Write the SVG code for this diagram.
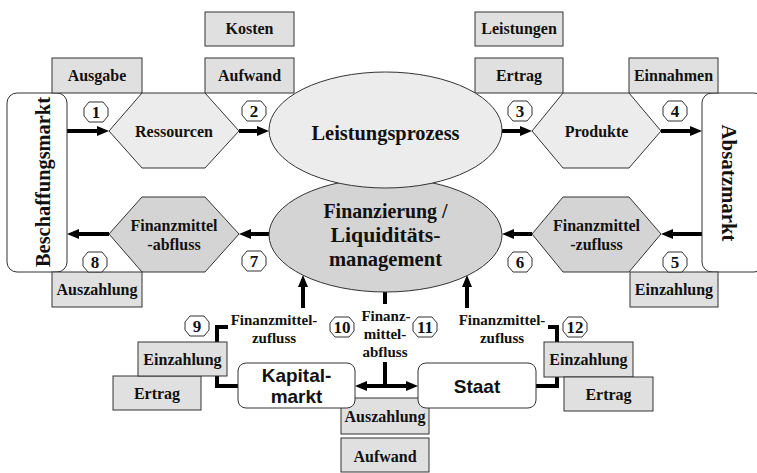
<svg xmlns="http://www.w3.org/2000/svg" xmlns:xlink="http://www.w3.org/1999/xlink" width="757" height="473" viewBox="0 0 757 473">
<style>
.box{fill:#e0e0e0;stroke:#333;stroke-width:1}
.hexL{fill:#ececec;stroke:#333;stroke-width:1}
.hexD{fill:#d4d4d4;stroke:#333;stroke-width:1}
.mkt{fill:#fff;stroke:#333;stroke-width:1}
.t{font-family:"Liberation Serif","Times New Roman",serif;font-weight:bold;font-size:16px;fill:#111;text-anchor:middle}
.big{font-size:22px}
.mid{font-size:20px}
.sm{font-size:15px}
.num{font-size:17px}
.sans{font-family:"Liberation Sans",Arial,sans-serif;font-weight:bold;font-size:19px;fill:#111;text-anchor:middle}
.ln{fill:none;stroke:#000;stroke-width:4}
.oct{fill:#fff;stroke:#333;stroke-width:1}
</style>
<defs>
<marker id="ah" markerUnits="userSpaceOnUse" markerWidth="12" markerHeight="10" refX="0" refY="5" orient="auto-start-reverse">
<path d="M0,0 L12,5 L0,10 Z" fill="#000"/>
</marker>
<path id="o" d="M-7,-10 L7,-10 L12,-4 L12,4 L7,10 L-7,10 L-12,4 L-12,-4 Z"/>
</defs>

<g id="connectors">
<path class="ln" d="M67,131 H97" marker-end="url(#ah)"/>
<path class="ln" d="M239,131 H257" marker-end="url(#ah)"/>
<path class="ln" d="M502,131 H520" marker-end="url(#ah)"/>
<path class="ln" d="M661,131 H690" marker-end="url(#ah)"/>
<path class="ln" d="M702,234 H673" marker-end="url(#ah)"/>
<path class="ln" d="M532,234 H514" marker-end="url(#ah)"/>
<path class="ln" d="M269,234 H251" marker-end="url(#ah)"/>
<path class="ln" d="M109,234 H79" marker-end="url(#ah)"/>
<path class="ln" d="M303,308 V287" marker-end="url(#ah)"/>
<path class="ln" d="M467,308 V287" marker-end="url(#ah)"/>
<path class="ln" d="M385,290 V304"/>
<path class="ln" d="M367,386 H406" marker-start="url(#ah)" marker-end="url(#ah)"/>
<path class="ln" d="M385,362 V386"/>
<path class="ln" d="M238,386 H217 V327 H228"/>
<path class="ln" d="M536,386 H557 V327 H548"/>
</g>

<g id="beschaffungsmarkt">
<rect class="mkt" x="7" y="93" width="60" height="179" rx="10"/>
<text class="t big" transform="translate(50,182) rotate(-90)" textLength="170" lengthAdjust="spacingAndGlyphs">Beschaffungsmarkt</text>
</g>
<g id="absatzmarkt">
<rect class="mkt" x="702" y="93" width="62" height="179" rx="10"/>
<text class="t big" transform="translate(722,183) rotate(90)" textLength="117" lengthAdjust="spacingAndGlyphs">Absatzmarkt</text>
</g>

<g id="kosten"><rect class="box" x="205" y="12" width="89" height="34"/><text class="t" x="249.5" y="34">Kosten</text></g>
<g id="leistungen"><rect class="box" x="475" y="12" width="88" height="34"/><text class="t" x="519" y="34">Leistungen</text></g>
<g id="ausgabe"><rect class="box" x="52" y="58" width="90" height="35"/><text class="t" x="97" y="81">Ausgabe</text></g>
<g id="aufwand-top"><rect class="box" x="205" y="58" width="89" height="35"/><text class="t" x="249.5" y="81">Aufwand</text></g>
<g id="ertrag-top"><rect class="box" x="475" y="58" width="88" height="35"/><text class="t" x="519" y="81">Ertrag</text></g>
<g id="einnahmen"><rect class="box" x="629" y="58" width="89" height="35"/><text class="t" x="673.5" y="81">Einnahmen</text></g>

<g id="ressourcen">
<polygon class="hexL" points="109,131 142,93 205,93 239,131 205,168 142,168"/>
<text class="t" x="174" y="137">Ressourcen</text>
</g>
<g id="produkte">
<polygon class="hexL" points="532,131 563,93 629,93 661,131 629,168 563,168"/>
<text class="t" x="596.5" y="137">Produkte</text>
</g>
<g id="finanzmittel-abfluss">
<polygon class="hexD" points="109,234 142,197 205,197 239,234 205,272 142,272"/>
<text class="t" x="174" y="231">Finanzmittel</text>
<text class="t" x="174" y="250">-abfluss</text>
</g>
<g id="finanzmittel-zufluss">
<polygon class="hexD" points="532,234 563,197 629,197 661,234 629,272 563,272"/>
<text class="t" x="596.5" y="231">Finanzmittel</text>
<text class="t" x="596.5" y="250">-zufluss</text>
</g>

<g id="finanzierung">
<ellipse cx="385.5" cy="235" rx="116.5" ry="57" fill="#d4d4d4" stroke="#333"/>
<text class="t mid" x="385.5" y="218" textLength="124" lengthAdjust="spacingAndGlyphs">Finanzierung /</text>
<text class="t mid" x="385.5" y="242" textLength="110" lengthAdjust="spacingAndGlyphs">Liquiditäts-</text>
<text class="t mid" x="385.5" y="266" textLength="113" lengthAdjust="spacingAndGlyphs">management</text>
</g>
<g id="leistungsprozess">
<ellipse cx="385.5" cy="130" rx="116.5" ry="58" fill="#ececec" stroke="#333"/>
<text class="t big" x="385.5" y="140" textLength="148" lengthAdjust="spacingAndGlyphs">Leistungsprozess</text>
</g>

<g id="auszahlung-left"><rect class="box" x="52" y="272" width="90" height="35"/><text class="t" x="97" y="295">Auszahlung</text></g>
<g id="einzahlung-right"><rect class="box" x="630" y="272" width="88" height="35"/><text class="t" x="674" y="295">Einzahlung</text></g>

<g id="label-zufluss-left"><text class="t sm" x="274" y="325">Finanzmittel-</text><text class="t sm" x="274" y="343">zufluss</text></g>
<g id="label-abfluss"><text class="t sm" x="386" y="321">Finanz-</text><text class="t sm" x="385" y="339">mittel-</text><text class="t sm" x="385" y="357">abfluss</text></g>
<g id="label-zufluss-right"><text class="t sm" x="502" y="325">Finanzmittel-</text><text class="t sm" x="502" y="343">zufluss</text></g>

<g id="ertrag-left"><rect class="box" x="113" y="376" width="88" height="34"/><text class="t" x="157" y="399">Ertrag</text></g>
<g id="einzahlung-left"><rect class="box" x="138" y="342" width="89" height="34"/><text class="t" x="182.5" y="365">Einzahlung</text></g>
<g id="einzahlung-staat"><rect class="box" x="544" y="342" width="89" height="35"/><text class="t" x="588.5" y="365">Einzahlung</text></g>
<g id="ertrag-staat"><rect class="box" x="564" y="377" width="89" height="34"/><text class="t" x="608.5" y="400">Ertrag</text></g>

<g id="auszahlung-bottom"><rect class="box" x="341" y="398" width="88" height="36"/><text class="t" x="385" y="422">Auszahlung</text></g>
<g id="aufwand-bottom"><rect class="box" x="341" y="438" width="88" height="34"/><text class="t" x="385" y="462">Aufwand</text></g>

<g id="kapitalmarkt">
<rect class="mkt" x="238" y="363" width="117" height="45" rx="8"/>
<text class="sans" x="296.5" y="382">Kapital-</text>
<text class="sans" x="296.5" y="403">markt</text>
</g>
<g id="staat">
<rect class="mkt" x="418" y="363" width="118" height="45" rx="8"/>
<text class="sans" x="477" y="393">Staat</text>
</g>

<g id="numbers">
<use xlink:href="#o" class="oct" x="96" y="112"/><text class="t num" x="96" y="118">1</text>
<use xlink:href="#o" class="oct" x="254" y="111"/><text class="t num" x="254" y="117">2</text>
<use xlink:href="#o" class="oct" x="520" y="111"/><text class="t num" x="520" y="117">3</text>
<use xlink:href="#o" class="oct" x="675" y="111"/><text class="t num" x="675" y="117">4</text>
<use xlink:href="#o" class="oct" x="675" y="262"/><text class="t num" x="675" y="268">5</text>
<use xlink:href="#o" class="oct" x="520" y="262"/><text class="t num" x="520" y="268">6</text>
<use xlink:href="#o" class="oct" x="254" y="261"/><text class="t num" x="254" y="267">7</text>
<use xlink:href="#o" class="oct" x="95" y="262"/><text class="t num" x="95" y="268">8</text>
<use xlink:href="#o" class="oct" x="197" y="326"/><text class="t num" x="197" y="332">9</text>
<use xlink:href="#o" class="oct" x="342" y="327"/><text class="t num" x="342" y="333">10</text>
<use xlink:href="#o" class="oct" x="425" y="327"/><text class="t num" x="425" y="333">11</text>
<use xlink:href="#o" class="oct" x="575" y="327"/><text class="t num" x="575" y="333">12</text>
</g>
</svg>
